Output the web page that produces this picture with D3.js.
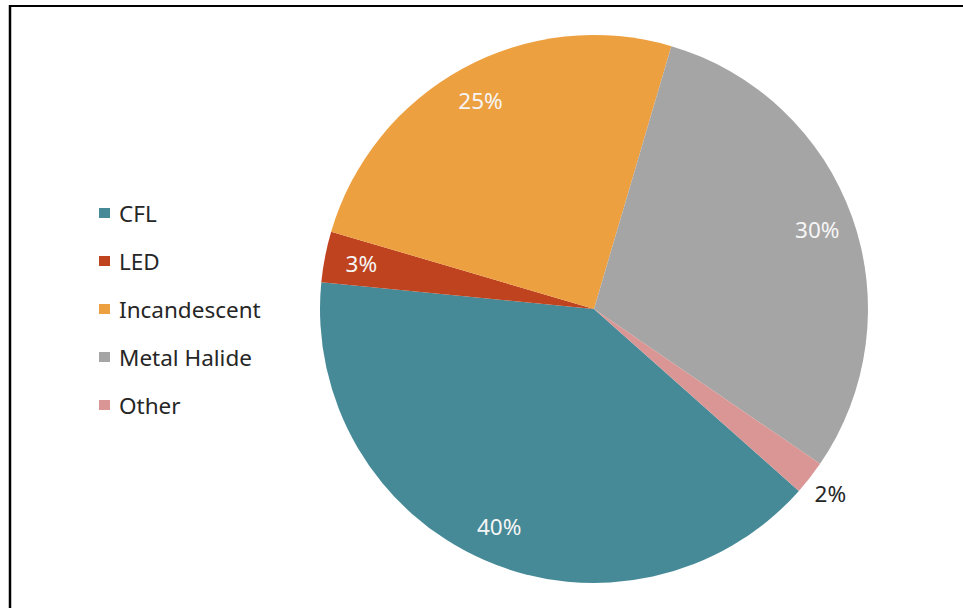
<!DOCTYPE html>
<html>
<head>
<meta charset="utf-8">
<script src="https://cdn.jsdelivr.net/npm/d3@7"></script>
<style>
  html, body { margin: 0; padding: 0; background: #fff; }
  svg { display: block; }
  text { font-family: "Segoe UI", "Noto Sans", "Open Sans", sans-serif; }
</style>
</head>
<body>
<svg id="chart" width="963" height="610"></svg>
<script>
// Lighting technology share
const categories = ["CFL", "LED", "Incandescent", "Metal Halide", "Other"];
const shares = [40, 3, 25, 30, 2];
const colors = ["#468a98", "#bf431f", "#eda040", "#a5a5a5", "#d99694"];

const width = 963, height = 610;
const cx = 594, cy = 309, radius = 274;
const firstSliceAngle = 131.6; // degrees, clockwise from 12 o'clock
const fontSize = 22.5;

const svg = d3.select("#chart");

// frame lines (top and left edges)
svg.append("line").attr("x1", 10).attr("x2", width).attr("y1", 6).attr("y2", 6)
  .attr("stroke", "#000").attr("stroke-width", 2);
svg.append("line").attr("x1", 10).attr("x2", 10).attr("y1", 5).attr("y2", 608)
  .attr("stroke", "#000").attr("stroke-width", 2.5);

const start = firstSliceAngle * Math.PI / 180;
const pie = d3.pie().sort(null).value(d => d.value)
  .startAngle(start).endAngle(start + 2 * Math.PI);

const data = categories.map((c, i) => ({ name: c, value: shares[i], color: colors[i] }));
const arcs = pie(data);

const arc = d3.arc().innerRadius(0).outerRadius(radius);
const labelArc = d3.arc().innerRadius(237).outerRadius(237);
const outerLabelArc = d3.arc().innerRadius(radius + 26).outerRadius(radius + 26);

const g = svg.append("g").attr("transform", `translate(${cx},${cy})`);

g.selectAll("path.slice").data(arcs).enter().append("path")
  .attr("class", "slice")
  .attr("d", arc)
  .attr("fill", d => d.data.color);

g.selectAll("text.val").data(arcs).enter().append("text")
  .attr("class", "val")
  .attr("transform", d => {
    const inside = d.data.value >= 3;
    const p = inside ? labelArc.centroid(d) : outerLabelArc.centroid(d);
    return `translate(${p[0]},${p[1]})`;
  })
  .attr("text-anchor", "middle")
  .attr("dominant-baseline", "central")
  .attr("font-size", fontSize)
  .attr("fill", d => d.data.value >= 3 ? "#f5f5f5" : "#262626")
  .text(d => d.data.value + "%");

// legend
const legendX = 99, legendY0 = 213, legendStep = 48;
const legend = svg.append("g");
const rows = legend.selectAll("g").data(data).enter().append("g")
  .attr("transform", (d, i) => `translate(${legendX},${legendY0 + i * legendStep})`);
rows.append("rect").attr("x", 0).attr("y", -5).attr("width", 11).attr("height", 10)
  .attr("fill", d => d.color);
rows.append("text").attr("x", 20).attr("y", 0)
  .attr("dominant-baseline", "central")
  .attr("font-size", fontSize)
  .attr("fill", "#262626")
  .text(d => d.name);
</script>
</body>
</html>
